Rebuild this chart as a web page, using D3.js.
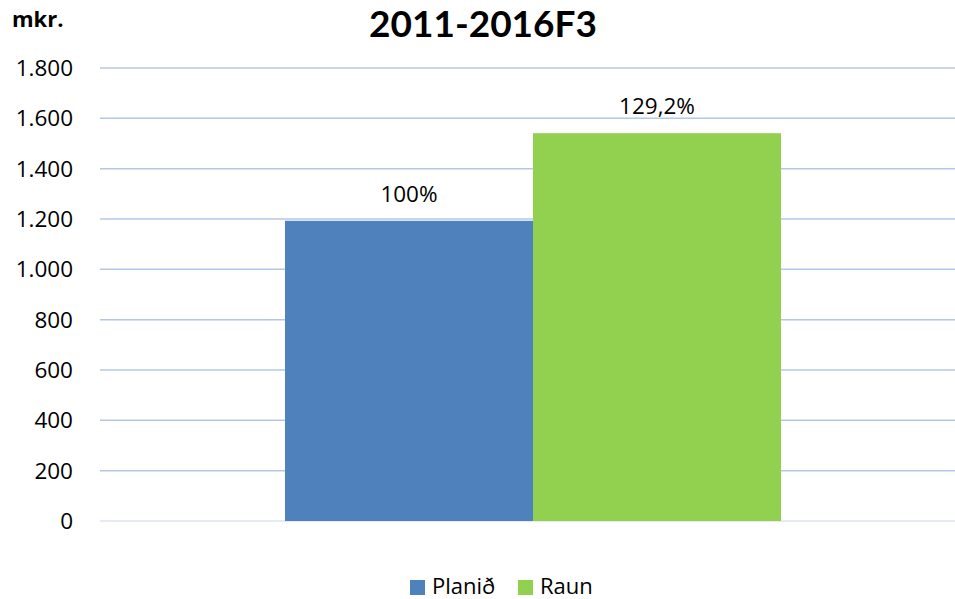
<!DOCTYPE html>
<html><head><meta charset="utf-8">
<script src="https://cdn.jsdelivr.net/npm/d3@7"></script>
<style>body{margin:0;background:#fff}svg{display:block}</style>
</head><body>
<svg id="c" width="955" height="599"></svg>
<script>
const categories = ["2011-2016F3"];
const seriesNames = ["Planið", "Raun"];
const seriesColors = ["#4F81BD", "#92D050"];
const values = [[1193, 1541]];
const valueLabels = [["100%", "129,2%"]];
const yTicks = [0, 200, 400, 600, 800, 1000, 1200, 1400, 1600, 1800];
const titleText = "2011-2016F3";
const unitText = "mkr.";

(function () {
const svg = d3.select("#c");
const font = "'Open Sans', sans-serif";
const pL = 100, pR = 966, pT = 68, pB = 521;

const y = d3.scaleLinear().domain([0, 1800]).range([pB, pT]);
const x0 = d3.scaleBand().domain(categories).range([pL, pR]).paddingInner(0).paddingOuter(0.373);
const x1 = d3.scaleBand().domain(seriesNames).range([0, x0.bandwidth()]).padding(0);

// gridlines
svg.append("g").selectAll("line").data(yTicks.filter(d => d > 0)).join("line")
  .attr("x1", pL).attr("x2", pR)
  .attr("y1", d => y(d)).attr("y2", d => y(d))
  .attr("stroke", "#B4C7E7").attr("stroke-width", 1.5);
svg.append("line").attr("x1", pL).attr("x2", pR)
  .attr("y1", y(0)).attr("y2", y(0)).attr("stroke", "#DDE3F0").attr("stroke-width", 1.5);

// y labels
const fmt = d => d3.format(",")(d).replace(/,/g, ".");
svg.append("g").selectAll("text").data(yTicks).join("text")
  .attr("x", 73).attr("y", d => y(d)).attr("dy", "0.35em")
  .attr("text-anchor", "end").attr("font-family", font).attr("font-size", 22.5)
  .attr("fill", "#000").text(fmt);

// bars
const g = svg.append("g");
categories.forEach((c, ci) => {
  seriesNames.forEach((s, si) => {
    const bx = x0(c) + x1(s);
    g.append("rect").attr("x", bx).attr("width", x1.bandwidth())
      .attr("y", y(values[ci][si])).attr("height", y(0) - y(values[ci][si]))
      .attr("fill", seriesColors[si]);
    g.append("text").attr("x", bx + x1.bandwidth() / 2).attr("y", y(values[ci][si]) - 19)
      .attr("text-anchor", "middle").attr("font-family", font).attr("font-size", 22.5)
      .attr("fill", "#000").text(valueLabels[ci][si]);
  });
});

// title & unit
svg.append("text").attr("x", 483).attr("y", 37).attr("text-anchor", "middle")
  .attr("font-family", "Lato, 'Open Sans', sans-serif").attr("font-weight", "bold").attr("font-size", 37).text(titleText);
svg.append("text").attr("x", 12).attr("y", 27)
  .attr("font-family", font).attr("font-weight", "bold").attr("font-size", 22).text(unitText);

// legend
const legendX = [410, 518];
seriesNames.forEach((s, i) => {
  svg.append("rect").attr("x", legendX[i]).attr("y", 580).attr("width", 15).attr("height", 15).attr("fill", seriesColors[i]);
  svg.append("text").attr("x", legendX[i] + 22).attr("y", 594)
    .attr("font-family", font).attr("font-size", 22).text(s);
});
})();
</script>
</body></html>
